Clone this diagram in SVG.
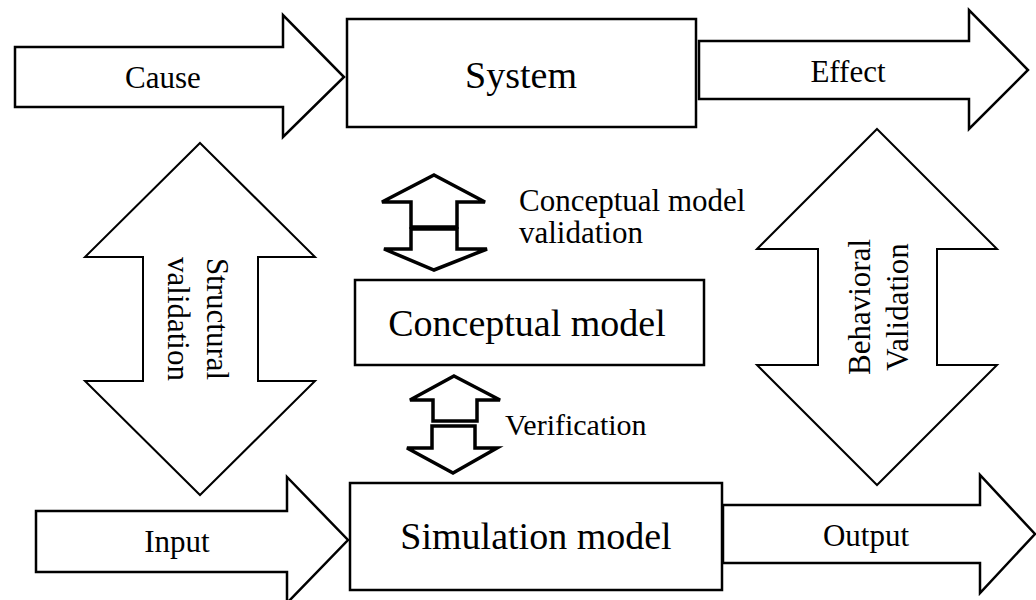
<svg xmlns="http://www.w3.org/2000/svg" width="1036" height="600" viewBox="0 0 1036 600">
<style>
.sh{fill:#fff;stroke:#000;stroke-width:2.5;stroke-linejoin:miter}
.big{fill:#fff;stroke:#000;stroke-width:2}
.sm{fill:#fff;stroke:#000;stroke-width:3.5;stroke-linejoin:miter}
.t{font-family:"Liberation Serif","Times New Roman",serif;fill:#000}
.s31{font-size:31px}
.s38{font-size:38px}
</style>
<rect width="1036" height="600" fill="#fff"/>
<g id="connectors">
  <g id="cause-arrow">
    <polygon class="sh" points="15,47 283,47 283,15 344,77 283,137 283,107 15,107"/>
    <text class="t s31" x="163" y="88" text-anchor="middle">Cause</text>
  </g>
  <g id="effect-arrow">
    <polygon class="sh" points="699,41 969,41 969,10 1028,70 969,129 969,99 699,99"/>
    <text class="t s31" x="848" y="82" text-anchor="middle">Effect</text>
  </g>
  <g id="input-arrow">
    <polygon class="sh" points="36,511 287,511 287,477 348,540 287,603 287,572 36,572"/>
    <text class="t s31" x="177" y="552" text-anchor="middle">Input</text>
  </g>
  <g id="output-arrow">
    <polygon class="sh" points="723,505 980,505 980,475 1035,534 980,593 980,563 723,563"/>
    <text class="t s31" x="866" y="546" text-anchor="middle">Output</text>
  </g>
  <g id="structural-validation">
    <polygon class="big" points="200,143 315,257 258,257 258,381 315,381 200,495 85,381 143,381 143,257 85,257"/>
    <text class="t s31" transform="translate(207,319) rotate(90)" text-anchor="middle"><tspan x="0" y="0">Structural</tspan><tspan x="0" y="39">validation</tspan></text>
  </g>
  <g id="behavioral-validation">
    <polygon class="big" points="877,129 997,249 937,249 937,365 997,365 877,485 757,365 818,365 818,249 757,249"/>
    <text class="t s31" transform="translate(870,307) rotate(-90)" text-anchor="middle"><tspan x="0" y="0">Behavioral</tspan><tspan x="0" y="38">Validation</tspan></text>
  </g>
  <g id="conceptual-validation-arrow">
    <polygon class="sm" points="434,175 485,202 457,202 457,227 411,227 411,202 382,202"/>
    <polygon class="sm" points="411,229 457,229 457,249 487,249 434,270 384,249 411,249"/>
    <text class="t s31" x="519" y="211">Conceptual model</text>
    <text class="t s31" x="519" y="243">validation</text>
  </g>
  <g id="verification-arrow">
    <polygon class="sm" points="454,376 500,400 477,400 477,421 433,421 433,400 410,400"/>
    <polygon class="sm" points="432,426 475,426 475,448 497,448 453,473 407,448 432,448"/>
    <text class="t" style="font-size:30px" x="505" y="435">Verification</text>
  </g>
</g>
<g id="system">
  <rect class="sh" x="347" y="19" width="349" height="108"/>
  <text class="t s38" x="521" y="88" text-anchor="middle">System</text>
</g>
<g id="conceptual-model">
  <rect class="sh" x="355" y="280" width="349" height="85"/>
  <text class="t s38" x="527" y="336" text-anchor="middle">Conceptual model</text>
</g>
<g id="simulation-model">
  <rect class="sh" x="350" y="483" width="372" height="107"/>
  <text class="t s38" x="536" y="549" text-anchor="middle">Simulation model</text>
</g>
</svg>
